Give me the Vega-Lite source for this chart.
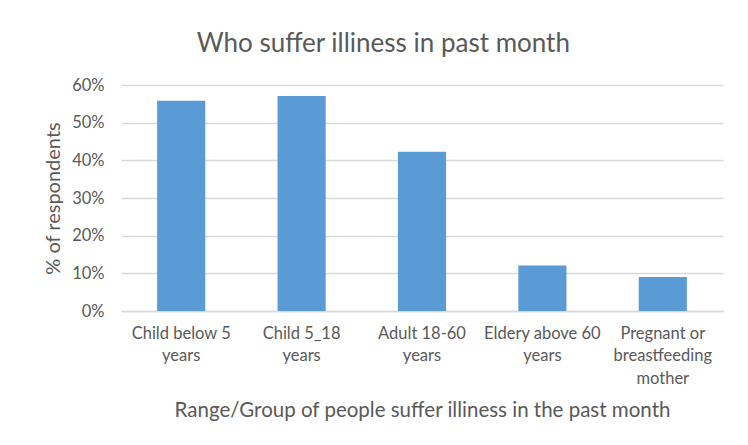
{
  "$schema": "https://vega.github.io/schema/vega-lite/v6.json",
  "autosize": "none",
  "width": 602,
  "height": 226,
  "padding": {"left": 121, "top": 85, "right": 25, "bottom": 134},
  "background": "white",
  "title": {
    "text": "Who suffer illiness in past month",
    "frame": "bounds",
    "anchor": "middle",
    "font": "Lato",
    "fontSize": 26,
    "fontWeight": "normal",
    "color": "#595959",
    "offset": 20
  },
  "data": {
    "values": [
      {"group": "Child below 5 years", "share": 0.558},
      {"group": "Child 5_18 years", "share": 0.571},
      {"group": "Adult 18-60 years", "share": 0.423},
      {"group": "Eldery above 60 years", "share": 0.121},
      {"group": "Pregnant or breastfeeding mother", "share": 0.09}
    ]
  },
  "mark": {"type": "bar", "color": "#5B9BD5"},
  "encoding": {
    "x": {
      "field": "group",
      "type": "nominal",
      "sort": null,
      "scale": {"paddingInner": 0.6, "paddingOuter": 0.3},
      "axis": {
        "title": "Range/Group of people suffer illiness in the past month",
        "labelAngle": 0,
        "labelExpr": "indexof(datum.value, 'Pregnant') == 0 ? ['Pregnant or', 'breastfeeding', 'mother'] : [replace(datum.value, ' years', ''), 'years']",
        "labelFontSize": 16.5,
        "labelLineHeight": 22.5,
        "labelPadding": 14,
        "labelBaseline": "top",
        "labelLimit": 0,
        "ticks": false,
        "domainColor": "#D9D9D9",
        "domainWidth": 1.3,
        "titleFontSize": 20.5,
        "titlePadding": 14
      }
    },
    "y": {
      "field": "share",
      "type": "quantitative",
      "scale": {"domain": [0, 0.6]},
      "axis": {
        "title": "% of respondents",
        "format": ".0%",
        "values": [0, 0.1, 0.2, 0.3, 0.4, 0.5, 0.6],
        "ticks": false,
        "domain": false,
        "labelFontSize": 16.5,
        "labelPadding": 17,
        "gridColor": "#D9D9D9",
        "gridWidth": 1.3,
        "titleFontSize": 20,
        "titlePadding": 8
      }
    }
  },
  "config": {
    "view": {"stroke": null},
    "axis": {
      "labelFont": "Lato",
      "labelColor": "#595959",
      "titleFont": "Lato",
      "titleFontWeight": "normal",
      "titleColor": "#595959"
    }
  }
}
